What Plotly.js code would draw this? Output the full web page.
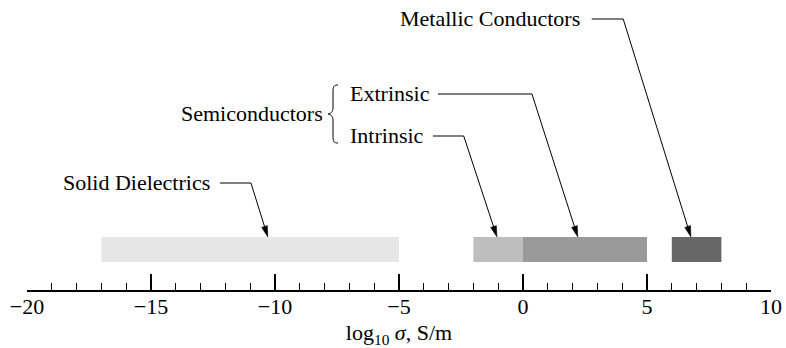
<!DOCTYPE html>
<html>
<head>
<meta charset="utf-8">
<script src="https://cdn.plot.ly/plotly-3.0.1.min.js"></script>
<style>html,body{margin:0;padding:0;background:#fff;}#chart{width:786px;height:348px;}</style>
</head>
<body>
<div id="chart"></div>
<script>
// ---- data ----
const categories = ['Solid Dielectrics', 'Intrinsic', 'Extrinsic', 'Metallic Conductors'];
const rangeStart = [-17, -2, 0, 6];
const rangeEnd = [-5, 0, 5, 8];
const barColors = ['#e6e6e6', '#bebebe', '#9a9a9a', '#676767'];
const tickVals = [-20, -15, -10, -5, 0, 5, 10];
const tickText = ['\u221220', '\u221215', '\u221210', '\u22125', '0', '5', '10'];
const pointerTips = [-10.29, -1.05, 2.21, 6.77]; // where each label's arrow points

// ---- layout geometry ----
const ML = 27, MR = 15, MT = 0, MB = 58, W = 786, H = 348;
const XMIN = -20, XMAX = 10;
const S = (W - ML - MR) / (XMAX - XMIN);
const toPx = x => ML + (x - XMIN) * S;
const toX = p => XMIN + (p - ML) / S;
const BAR_Y = 249.5, BAR_H = 25;

const FONT = '"Liberation Serif", "Times New Roman", serif';
const FS = 22;

// label placement (x in data units, y in plot pixels from top)
const labels = [
  {text: 'Solid Dielectrics', x: -12.54, y: 182, anchor: 'right', lineFrom: -12.22, corner: -10.97},
  {text: 'Intrinsic', x: -7.06, y: 135, anchor: 'left', lineFrom: -3.63, corner: -2.39},
  {text: 'Extrinsic', x: -7.06, y: 93, anchor: 'left', lineFrom: -3.43, corner: 0.36},
  {text: 'Metallic Conductors', x: -5.05, y: 18, anchor: 'left', lineFrom: 2.77, corner: 4.04}
];

const traces = [{
  type: 'bar', orientation: 'h',
  y: categories.map(() => BAR_Y),
  base: rangeStart,
  x: rangeEnd.map((e, i) => e - rangeStart[i]),
  width: categories.map(() => BAR_H),
  marker: {color: barColors, line: {width: 0}},
  text: categories, hoverinfo: 'text', textposition: 'none'
}];

const annotations = [];
const shapes = [];
const tipY = BAR_Y - BAR_H / 2;

labels.forEach((lb, i) => {
  annotations.push({
    x: lb.x, y: lb.y, xref: 'x', yref: 'y', text: lb.text, showarrow: false,
    xanchor: lb.anchor, yanchor: 'middle',
    font: {family: FONT, size: FS, color: '#000'}
  });
  // arrow geometry in pixels
  const cx = toPx(lb.corner), cy = lb.y + 1;
  const tx = toPx(pointerTips[i]), ty = tipY;
  const dx = tx - cx, dy = ty - cy, len = Math.hypot(dx, dy);
  const ux = dx / len, uy = dy / len;
  const hl = 11, hw = 3;
  const bx = tx - hl * ux, by = ty - hl * uy;
  shapes.push({
    type: 'path', xref: 'x', yref: 'y',
    path: `M${lb.lineFrom},${cy} L${lb.corner},${cy} L${toX(bx + ux)},${by + uy}`,
    line: {color: '#000', width: 1}
  });
  shapes.push({
    type: 'path', xref: 'x', yref: 'y',
    path: `M${toX(tx)},${ty} L${toX(bx - hw * uy)},${by + hw * ux} L${toX(bx + hw * uy)},${by - hw * ux} Z`,
    fillcolor: '#000', line: {color: '#000', width: 0.5}
  });
});

annotations.push({
  x: -7.98, y: 113, xref: 'x', yref: 'y', text: 'Semiconductors', showarrow: false,
  xanchor: 'right', yanchor: 'middle', font: {family: FONT, size: FS, color: '#000'}
});

// brace
(function () {
  const x0 = 328, x1 = 333, x2 = 338, yT = 85, yM = 114, yB = 143;
  const p = (x, y) => `${toX(x)},${y}`;
  shapes.push({
    type: 'path', xref: 'x', yref: 'y',
    path: `M${p(x2, yT)} C${p(x1 + 0.5, yT)} ${p(x1, yT + 2)} ${p(x1, yT + 7)} L${p(x1, yM - 6)} C${p(x1, yM - 2)} ${p(x0 + 2, yM)} ${p(x0, yM)} C${p(x0 + 2, yM)} ${p(x1, yM + 2)} ${p(x1, yM + 6)} L${p(x1, yB - 7)} C${p(x1, yB - 2)} ${p(x1 + 0.5, yB)} ${p(x2, yB)}`,
    line: {color: '#000', width: 1}
  });
})();

const layout = {
  width: W, height: H,
  margin: {l: ML, r: MR, t: MT, b: MB, pad: 0},
  paper_bgcolor: '#fff', plot_bgcolor: '#fff',
  showlegend: false,
  font: {family: FONT, size: FS, color: '#000'},
  xaxis: {
    range: [XMIN, XMAX], showgrid: false, zeroline: false,
    showline: true, linecolor: '#000', linewidth: 2,
    ticks: 'inside', ticklen: 16, tickwidth: 1.2, tickcolor: '#000',
    tickmode: 'array', tickvals: tickVals, ticktext: tickText,
    ticklabelstandoff: -4,
    tickfont: {family: FONT, size: FS, color: '#000'},
    minor: {dtick: 1, ticks: 'inside', ticklen: 7, tickwidth: 1, tickcolor: '#000', showgrid: false},
    title: {text: 'log<sub>10</sub> <i>σ</i>, S/m', font: {family: FONT, size: FS, color: '#000'}, standoff: 9},
    automargin: false, fixedrange: true
  },
  yaxis: {range: [290, 0], visible: false, fixedrange: true},
  annotations: annotations,
  shapes: shapes
};

Plotly.newPlot('chart', traces, layout, {displayModeBar: false, staticPlot: true});
</script>
</body>
</html>
